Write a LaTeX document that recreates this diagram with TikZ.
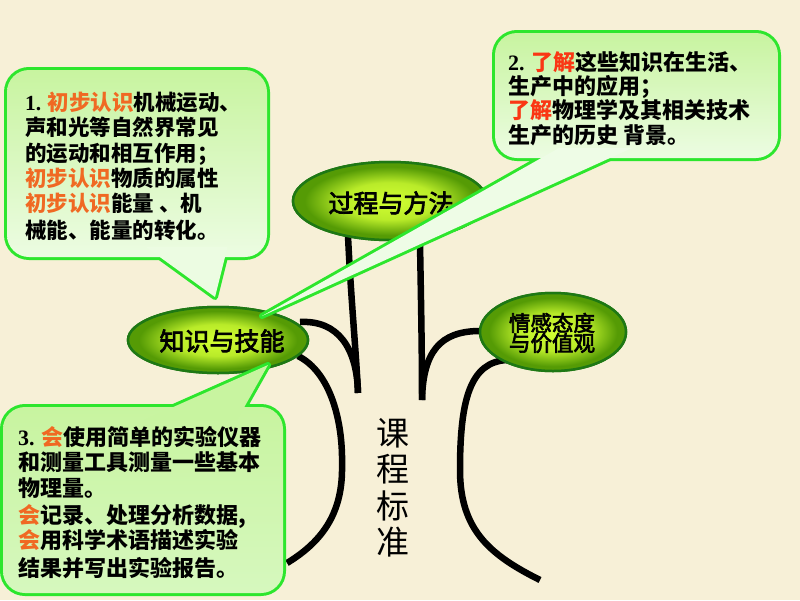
\documentclass[tikz,border=0pt]{standalone}
\usepackage{fontspec}
\usetikzlibrary{shapes.geometric}
\newfontfamily\cjk{Noto Sans CJK SC}
\newfontfamily\cjkm{Noto Sans CJK SC}[FakeBold=3]
\newfontfamily\latn{Liberation Serif}
\definecolor{bg}{RGB}{247,240,215}
\definecolor{cg}{RGB}{45,230,45}
\definecolor{org}{RGB}{240,105,35}
\definecolor{rd}{RGB}{250,55,20}
\definecolor{ellin}{RGB}{210,255,50}
\definecolor{ellout}{RGB}{85,155,5}
\definecolor{elldraw}{RGB}{30,120,20}
\definecolor{boxtop}{RGB}{200,244,160}
\definecolor{boxmid}{RGB}{236,252,226}
\definecolor{boxbot}{RGB}{214,248,190}
\definecolor{tailfill}{RGB}{238,252,230}
\pgfdeclareradialshading{ellshade}{\pgfpointorigin}{color(0bp)=(ellin); color(12bp)=(ellin!80!ellout); color(22bp)=(ellout); color(50bp)=(ellout)}
\newcommand{\og}[1]{\textcolor{org}{#1}}
\newcommand{\rr}[1]{\textcolor{rd}{#1}}
\tikzset{
  ell/.style={ellipse, draw=elldraw, line width=2.5pt, inner sep=0pt, shading=ellshade},
  curve/.style={line width=6.5pt, draw=black, line cap=butt},
  ctext/.style={anchor=base west, inner sep=0pt, font=\cjk\bfseries\fontsize{21.5}{25}\selectfont},
  ctextb/.style={anchor=base west, inner sep=0pt, font=\cjk\bfseries\fontsize{22}{25}\selectfont},
  bstroke/.style={draw=cg, line width=6pt, line join=round},
}
\begin{document}
\begin{tikzpicture}[x=1pt,y=-1pt]
\fill[bg] (0,0) rectangle (800,600);
\useasboundingbox (0,0) rectangle (800,600);

% coordinates for curve ends
\coordinate (m1) at (358,393);
\coordinate (m2) at (422,400);
\coordinate (bl) at (287,563);
\coordinate (br) at (540,580);

% ellipses (nodes)
\node[ell, minimum width=194pt, minimum height=78pt] (gc) at (390,201) {};
\node[ell, minimum width=180pt, minimum height=66pt] (zs) at (218,340) {};
\node[ell, minimum width=146pt, minimum height=78pt] (qg) at (553,332) {};

% black curves
\draw[curve] (300,322) .. controls (338,320) and (357,348) .. (m1);
\draw[curve] (348,236) .. controls (351,300) and (356,350) .. (m1);
\draw[curve] (420,243) .. controls (421,300) and (422,350) .. (m2);
\draw[curve] (480,331) .. controls (440,331) and (423,352) .. (m2);
\draw[curve] (298,356) .. controls (330,372) and (343,420) .. (342,465) .. controls (343,510) and (325,540) .. (bl);
\draw[curve] (507,360) .. controls (470,362) and (460,400) .. (460,470) .. controls (460,530) and (490,555) .. (br);

% ellipses redrawn on top
\node[ell, minimum width=194pt, minimum height=78pt] at (390,201) {};
\node[ell, minimum width=180pt, minimum height=66pt] at (218,340) {};
\node[ell, minimum width=146pt, minimum height=78pt] at (553,332) {};
\node[font=\cjkm\fontsize{25}{25}\selectfont] (gct) at (391,203) {过程与方法};
\node[font=\cjkm\fontsize{25}{25}\selectfont] (zst) at (222,341) {知识与技能};
\node[font=\cjkm\fontsize{21.5}{20}\selectfont, align=center, inner sep=0pt] (qgt) at (552,333) {情感态度\\与价值观};

% center vertical text
\node[font=\cjk\fontsize{33}{36.5}\selectfont, align=center, inner sep=0pt] (kc) at (393,488) {课\\程\\标\\准};

% callout 1
\draw[bstroke, rounded corners=22pt] (7,70) rectangle (267,257);
\draw[bstroke] (146,247) -- (215,297) -- (227.5,247) -- cycle;
\shade[rounded corners=22pt, top color=boxtop, bottom color=boxmid] (7,70) rectangle (267,257);
\fill[boxmid] (146,247) -- (215,297) -- (227.5,247) -- cycle;
\node[ctext] (a1) at (25,110) {{\latn\bfseries 1.} \og{初步认识}机械运动、};
\node[ctext] (a2) at (25,135) {声和光等自然界常见};
\node[ctext] (a3) at (25,161) {的运动和相互作用；};
\node[ctext] (a4) at (25,186) {\og{初步认识}物质的属性};
\node[ctext] (a5) at (25,211) {\og{初步认识}能量 、机};
\node[ctext] (a6) at (25,238) {械能、能量的转化。};

% callout 3
\draw[bstroke, rounded corners=22pt] (3,407) rectangle (283,593);
\draw[bstroke] (144,420) -- (268,365) -- (237,420) -- cycle;
\shade[rounded corners=22pt, top color=boxtop, middle color=boxmid, bottom color=boxbot] (3,407) rectangle (283,593);
\fill[boxtop] (144,420) -- (268,365) -- (237,420) -- cycle;
\node[ctextb] (c1) at (18,445) {{\latn\bfseries 3.} \og{会}使用简单的实验仪器};
\node[ctextb] (c2) at (18,470) {和测量工具测量一些基本};
\node[ctextb] (c3) at (18,496) {物理量。};
\node[ctextb] (c4) at (18,523) {\og{会}记录、处理分析数据,};
\node[ctextb] (c5) at (18,548) {\og{会}用科学术语描述实验};
\node[ctextb] (c6) at (18,576) {结果并写出实验报告。};

% callout 2
\draw[bstroke, rounded corners=22pt] (495,33) rectangle (778,158);
\draw[bstroke] (559,148) -- (262,316) -- (632,148) -- cycle;
\shade[rounded corners=22pt, top color=boxtop, bottom color=boxmid] (495,33) rectangle (778,158);
\fill[tailfill] (559,148) -- (262,316) -- (632,148) -- cycle;
\node[ctextb] (b1) at (508,70) {{\latn\bfseries 2.} \rr{了解}这些知识在生活、};
\node[ctextb] (b2) at (508,94) {生产中的应用；};
\node[ctextb] (b3) at (508,118) {\rr{了解}物理学及其相关技术};
\node[ctextb] (b4) at (508,143) {生产的历史 背景。};
\end{tikzpicture}
\end{document}
